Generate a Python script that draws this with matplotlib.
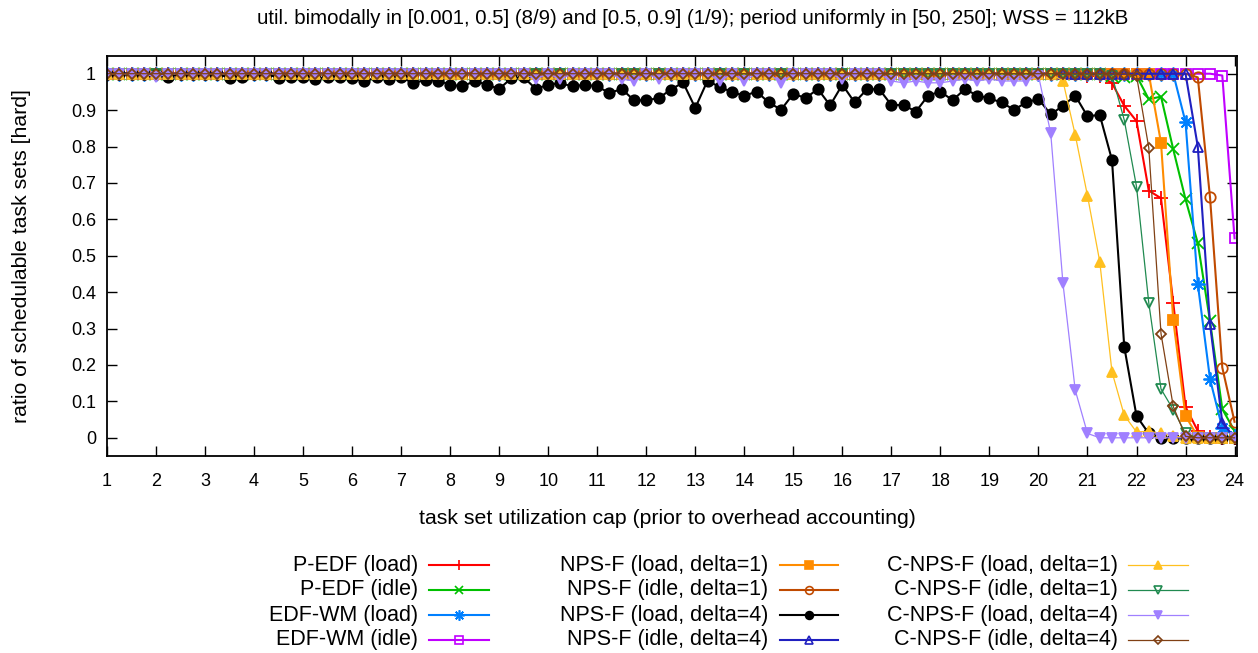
import matplotlib as mpl

mpl.rcParams['font.family'] = ['Liberation Sans', 'DejaVu Sans']

import matplotlib.pyplot as plt
from matplotlib.lines import Line2D
import numpy as np

W, H = 1258, 653

# task set utilization cap, step 0.25 from 1 to 24
util_cap = np.linspace(1, 24, 93)

p_edf_load = [1.0] * 80 + [0.995, 0.995, 0.974, 0.912, 0.870, 0.679, 0.658, 0.37,
                           0.085, 0.019, 0.003, 0.0, 0.0]
p_edf_idle = [1.0] * 82 + [0.995, 0.99, 0.995, 0.930, 0.937, 0.792, 0.655, 0.535,
                           0.32, 0.079, 0.019]
edf_wm_load = [1.0] * 87 + [1.0, 0.867, 0.423, 0.161, 0.027, 0.005]
edf_wm_idle = [1.0] * 91 + [0.995, 0.548]
nps_load_d1 = [1.0] * 86 + [0.810, 0.323, 0.060, 0.003, 0.0, 0.0, 0.0]
nps_idle_d1 = [1.0] * 89 + [0.99, 0.66, 0.193, 0.044]
nps_load_d4 = [
    1, 1, 1, 1,
    1, 0.992, 1, 1,
    1, 1, 0.988, 0.992,
    1, 1, 0.988, 0.992,
    0.992, 0.985, 0.992, 0.992,
    0.988, 0.979, 0.99, 0.985,
    0.99, 0.974, 0.983, 0.981,
    0.970, 0.965, 0.980, 0.970,
    0.958, 0.988, 0.99, 0.958,
    0.970, 0.974, 0.965, 0.970,
    0.965, 0.947, 0.958, 0.927,
    0.927, 0.933, 0.956, 0.976,
    0.906, 0.981, 0.963, 0.950,
    0.939, 0.951, 0.921, 0.901,
    0.945, 0.933, 0.958, 0.913,
    0.970, 0.921, 0.957, 0.958,
    0.914, 0.914, 0.896, 0.940,
    0.951, 0.927, 0.958, 0.940,
    0.932, 0.921, 0.901, 0.921,
    0.931, 0.888, 0.912, 0.940,
    0.883, 0.887, 0.763, 0.250,
    0.060, 0.012, 0, 0,
    0, 0, 0, 0,
    0,
]
nps_idle_d4 = [1.0] * 89 + [0.80, 0.312, 0.042, 0.0]
cnps_load_d1 = [1.0] * 78 + [0.98, 0.832, 0.665, 0.484, 0.181, 0.062, 0.016, 0.018,
                             0.012, 0.005, 0.0, 0.0, 0.0, 0.0, 0.0]
cnps_idle_d1 = [1.0] * 82 + [0.995, 0.873, 0.69, 0.371, 0.134, 0.077, 0.012, 0.0,
                             0.0, 0.0, 0.0]
cnps_load_d4 = [
    1, 1, 1, 1,
    0.99, 1, 1, 1,
    1, 1, 1, 1,
    1, 1, 1, 1,
    1, 1, 1, 1,
    1, 1, 1, 1,
    1, 1, 1, 1,
    1, 1, 1, 1,
    1, 1, 1, 0.985,
    1, 0.985, 1, 1,
    1, 1, 0.985, 0.98,
    1, 0.985, 1, 1,
    1, 1, 0.98, 1,
    0.98, 1, 1, 0.975,
    1, 1, 1, 1,
    0.985, 1, 1, 1,
    0.98, 0.975, 0.98, 0.975,
    0.975, 0.98, 0.985, 0.98,
    0.985, 0.98, 0.98, 0.98,
    0.995, 0.837, 0.424, 0.131,
    0.012, 0, 0, 0,
    0, 0, 0, 0,
    0, 0, 0, 0,
    0,
]
cnps_idle_d4 = [1.0] * 84 + [0.995, 0.797, 0.286, 0.086, 0.004, 0.0, 0.0, 0.0, 0.0]

# label, values, color, marker, filled, marker size, line width
series = [
    ('P-EDF (load)', p_edf_load, '#ff0000', '+', True, 10, 1.5),
    ('P-EDF (idle)', p_edf_idle, '#00c000', 'x', True, 8, 1.5),
    ('EDF-WM (load)', edf_wm_load, '#0080ff', (8, 2, 0), True, 10, 1.5),
    ('EDF-WM (idle)', edf_wm_idle, '#c000ff', 's', False, 7.5, 1.5),
    ('NPS-F (load, delta=1)', nps_load_d1, '#ff8c00', 's', True, 7.5, 1.5),
    ('NPS-F (idle, delta=1)', nps_idle_d1, '#c04a00', 'o', False, 7.5, 1.5),
    ('NPS-F (load, delta=4)', nps_load_d4, '#000000', 'o', True, 7.5, 1.5),
    ('NPS-F (idle, delta=4)', nps_idle_d4, '#2020c0', '^', False, 7.5, 1.5),
    ('C-NPS-F (load, delta=1)', cnps_load_d1, '#ffc020', '^', True, 7, 0.9),
    ('C-NPS-F (idle, delta=1)', cnps_idle_d1, '#208a50', 'v', False, 7, 0.9),
    ('C-NPS-F (load, delta=4)', cnps_load_d4, '#a080ff', 'v', True, 7, 0.9),
    ('C-NPS-F (idle, delta=4)', cnps_idle_d4, '#804014', 'D', False, 5.5, 0.9),
]

fig = plt.figure(figsize=(W / 100, H / 100), dpi=100)
ax = fig.add_axes([107 / W, 1 - 456 / H, (1237 - 107) / W, (456 - 55.5) / H])

for label, vals, color, marker, filled, ms, lw in series:
    ax.plot(util_cap, vals, color=color, lw=lw, marker=marker, ms=ms, mew=1.3,
            mfc=color if filled else 'none', mec=color)

ax.set_xlim(1, 24.05)
ax.set_ylim(-0.05, 1.05)
ax.set_xticks(range(1, 25))
ax.set_yticks(np.arange(0, 1.01, 0.1))
ax.set_yticklabels(['0'] + ['%.1f' % v for v in np.arange(0.1, 0.95, 0.1)] + ['1'])
ax.tick_params(direction='in', top=True, right=True, length=7, width=1,
               labelsize=13)
ax.tick_params(axis='x', pad=12)
ax.tick_params(axis='y', pad=8)
for s in ax.spines.values():
    s.set_linewidth(1.3)

fig.text(693 / W, 1 - 18 / H,
         'util. bimodally in [0.001, 0.5] (8/9) and [0.5, 0.9] (1/9); '
         'period uniformly in [50, 250]; WSS = 112kB',
         ha='center', va='center', fontsize=14.7)
fig.text(667 / W, 1 - 518 / H,
         'task set utilization cap (prior to overhead accounting)',
         ha='center', va='center', fontsize=15.3)
fig.text(22 / W, 1 - 256 / H, 'ratio of schedulable task sets [hard]',
         ha='center', va='center', rotation=90, fontsize=15.3)

# legend: 3 columns x 4 rows, text right-aligned left of the sample line
col_text = [418, 768, 1118]
col_line = [(429, 489), (780, 838), (1128, 1188)]
row_y = [565, 590, 615, 640]
for i, (label, vals, color, marker, filled, ms, lw) in enumerate(series):
    c, r = i // 4, i % 4
    y = 1 - row_y[r] / H
    fig.text(col_text[c] / W, y, label, ha='right', va='center', fontsize=15.5)
    x0, x1 = col_line[c]
    fig.add_artist(Line2D([x0 / W, x1 / W], [y, y], color=color, lw=lw,
                          transform=fig.transFigure))
    fig.add_artist(Line2D([(x0 + x1) / 2 / W], [y], color=color, lw=0,
                          marker=marker, ms=ms * 0.75, mew=1.2,
                          mfc=color if filled else 'none', mec=color,
                          transform=fig.transFigure))

fig.savefig('out.png', dpi=100)
